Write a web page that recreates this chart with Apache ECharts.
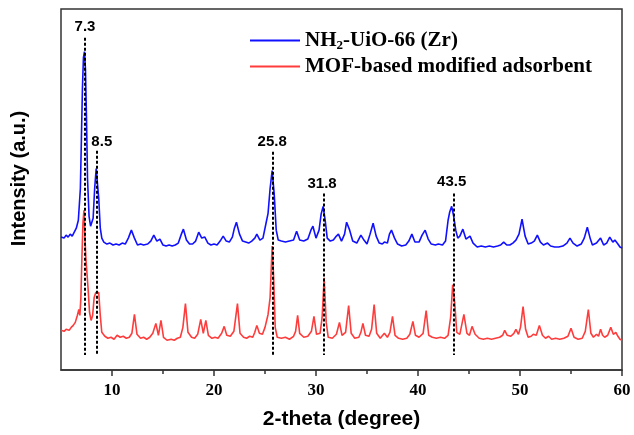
<!DOCTYPE html>
<html>
<head>
<meta charset="utf-8">
<script src="https://cdn.jsdelivr.net/npm/echarts@6/dist/echarts.min.js"></script>
<style>
  html, body { margin: 0; padding: 0; background: #fff; }
  #main { width: 634px; height: 435px; }
</style>
</head>
<body>
<div id="main"></div>
<script>
// 2-theta vs intensity (a.u.), the blue pattern already carries its stacking offset
var uioPattern = [
  [5.0,134],[5.3,133],[5.5,136],[5.7,134],[5.9,137],[6.1,135],[6.3,139],[6.5,143],[6.7,151],[6.9,183],
  [7.0,233],[7.1,283],[7.2,315],[7.3,321],[7.4,303],[7.5,253],[7.6,193],[7.75,155],[7.9,145],[8.0,143],
  [8.15,153],[8.3,183],[8.45,203],[8.55,201],[8.7,173],[8.85,143],[9.0,133],[9.2,129],[9.5,127],[9.8,128],
  [10.1,126],[10.4,127],[10.7,126],[11.0,128],[11.3,127],[11.6,133],[11.9,141],[12.2,133],[12.5,126],[12.8,127],
  [13.1,126],[13.5,127],[13.8,130],[14.1,136],[14.4,130],[14.7,132],[15.0,126],[15.3,125],[15.6,126],[15.9,125],
  [16.2,126],[16.5,128],[16.8,137],[17.0,142],[17.3,131],[17.6,127],[17.9,127],[18.2,130],[18.5,139],[18.8,133],
  [19.1,134],[19.4,128],[19.7,126],[20.0,127],[20.3,126],[20.6,130],[20.9,135],[21.2,130],[21.5,129],[21.8,134],
  [22.0,143],[22.2,149],[22.5,137],[22.8,130],[23.1,129],[23.4,128],[23.7,130],[24.0,133],[24.2,137],[24.5,131],
  [24.8,133],[25.1,148],[25.3,158],[25.5,183],[25.7,201],[25.9,178],[26.1,141],[26.3,131],[26.6,130],[27.0,129],
  [27.4,130],[27.8,131],[28.1,140],[28.4,131],[28.8,130],[29.2,132],[29.5,141],[29.7,145],[30.0,133],[30.3,141],
  [30.5,157],[30.7,165],[30.9,151],[31.1,133],[31.4,130],[31.7,131],[32.0,135],[32.2,137],[32.5,130],[32.8,137],
  [33.0,149],[33.1,151],[33.3,141],[33.6,130],[34.0,128],[34.2,132],[34.4,136],[34.7,131],[35.0,127],[35.3,137],
  [35.6,148],[35.9,135],[36.2,128],[36.5,127],[36.7,129],[37.0,128],[37.2,137],[37.4,141],[37.7,133],[38.0,127],
  [38.4,125],[38.8,126],[39.1,130],[39.4,137],[39.7,129],[40.1,129],[40.4,136],[40.7,141],[41.0,132],[41.3,127],
  [41.7,126],[42.0,127],[42.4,126],[42.7,130],[42.95,151],[43.1,159],[43.3,165],[43.5,155],[43.7,141],[43.9,133],
  [44.1,135],[44.4,142],[44.7,132],[45.1,135],[45.4,128],[45.8,124],[46.2,125],[46.6,124],[47.0,125],[47.4,124],
  [47.8,125],[48.1,126],[48.4,129],[48.7,126],[49.0,126],[49.3,128],[49.6,131],[49.9,137],[50.2,152],[50.5,135],
  [50.8,127],[51.1,128],[51.4,130],[51.7,136],[52.0,129],[52.3,126],[52.7,128],[53.0,125],[53.4,124],[53.8,124],
  [54.2,125],[54.6,128],[54.9,133],[55.2,128],[55.6,125],[56.0,127],[56.3,133],[56.6,144],[56.9,132],[57.1,126],
  [57.5,128],[57.9,133],[58.2,126],[58.5,128],[58.8,134],[59.1,129],[59.3,131],[59.6,127],[59.8,124],[60.0,123]
];

var mofPattern = [
  [5.0,40],[5.3,39],[5.5,41],[5.8,40],[6.0,43],[6.2,45],[6.4,48],[6.6,55],[6.75,61],[6.85,55],
  [6.95,73],[7.05,113],[7.15,148],[7.25,161],[7.35,133],[7.45,111],[7.55,111],[7.65,83],[7.8,58],[7.95,50],
  [8.1,55],[8.25,73],[8.4,78],[8.55,77],[8.7,78],[8.85,55],[9.0,38],[9.3,34],[9.6,32],[9.9,33],
  [10.2,31],[10.5,35],[10.8,33],[11.1,34],[11.4,32],[11.7,33],[11.95,37],[12.2,56],[12.45,36],[12.8,32],
  [13.1,33],[13.4,31],[13.7,33],[14.0,37],[14.3,47],[14.55,35],[14.8,50],[15.05,33],[15.4,30],[15.8,31],
  [16.1,30],[16.4,32],[16.7,33],[16.95,43],[17.2,67],[17.45,38],[17.8,33],[18.1,32],[18.4,36],[18.7,51],
  [18.95,37],[19.2,50],[19.45,35],[19.8,32],[20.1,33],[20.4,32],[20.75,37],[21.0,44],[21.25,35],[21.6,34],
  [21.95,39],[22.3,67],[22.55,37],[22.9,33],[23.2,32],[23.5,34],[23.8,33],[24.0,38],[24.2,45],[24.45,37],
  [24.75,36],[25.0,43],[25.3,56],[25.5,73],[25.7,125],[25.85,93],[26.0,43],[26.2,33],[26.6,32],[27.0,33],
  [27.4,31],[27.8,34],[28.0,39],[28.2,55],[28.4,37],[28.8,33],[29.2,34],[29.55,39],[29.8,54],[30.05,36],
  [30.4,37],[30.6,53],[30.8,93],[31.0,48],[31.2,33],[31.6,32],[32.0,36],[32.3,48],[32.55,35],[32.9,38],
  [33.2,65],[33.45,37],[33.8,32],[34.2,33],[34.4,38],[34.6,47],[34.85,35],[35.2,34],[35.45,41],[35.7,66],
  [35.95,37],[36.3,32],[36.7,37],[37.0,33],[37.25,38],[37.5,54],[37.75,35],[38.1,32],[38.5,31],[38.9,32],
  [39.2,36],[39.5,49],[39.75,35],[40.1,33],[40.5,37],[40.8,60],[41.05,35],[41.4,33],[41.8,32],[42.2,33],
  [42.6,32],[42.95,35],[43.2,53],[43.4,86],[43.6,68],[43.8,38],[44.1,36],[44.5,56],[44.8,37],[45.05,35],
  [45.3,44],[45.6,36],[46.0,32],[46.4,31],[46.8,32],[47.2,31],[47.6,32],[48.0,33],[48.3,35],[48.5,40],
  [48.75,35],[49.1,34],[49.4,37],[49.6,41],[49.85,36],[50.05,43],[50.3,64],[50.55,41],[50.8,33],[51.1,34],
  [51.3,36],[51.6,35],[51.9,45],[52.2,35],[52.5,32],[52.8,34],[53.1,31],[53.5,32],[53.9,31],[54.3,32],
  [54.7,34],[55.0,42],[55.3,33],[55.7,31],[56.1,32],[56.4,39],[56.7,61],[56.95,37],[57.2,33],[57.5,36],
  [57.7,34],[57.9,41],[58.1,35],[58.3,33],[58.6,35],[58.9,43],[59.15,36],[59.4,38],[59.6,34],[59.8,31],[60.0,30]
];

// marked reflections: where the dashed guide sits, its top, and the text written above it
var peakAt = [7.28, 8.5, 25.72, 30.72, 43.46];
var peakTop = [335, 221, 220, 178, 178];
var peakBottom = 15;
var peakText = ['7.3', '8.5', '25.8', '31.8', '43.5'];
var peakTextAt = [[7.35, 338], [9.0, 222], [25.7, 222], [30.6, 180], [43.3, 182]];

var majorTicks = [10, 20, 30, 40, 50, 60];
var minorTicks = [15, 25, 35, 45, 55];

var names = ['NH2-UiO-66 (Zr)', 'MOF-based modified adsorbent'];

var myChart = echarts.init(document.getElementById('main'));

var guides = [];
for (var i = 0; i < peakAt.length; i++) {
  guides.push([{coord: [peakAt[i], peakTop[i]]}, {coord: [peakAt[i], peakBottom]}]);
}
var peakLabels = [];
for (var j = 0; j < peakText.length; j++) {
  peakLabels.push({name: peakText[j], value: peakTextAt[j]});
}

var option = {
  animation: false,
  grid: {
    left: 61, right: 12, top: 9, bottom: 62,
    show: true, borderColor: '#333', borderWidth: 1.5
  },
  legend: {
    data: [
      {name: names[0], icon: 'rect', itemStyle: {color: '#1010ff'}},
      {name: names[1], icon: 'rect', itemStyle: {color: '#ff3c3c'}}
    ],
    orient: 'vertical',
    left: 250,
    top: 30,
    padding: 0,
    itemWidth: 50,
    itemHeight: 2,
    itemGap: 4,
    textStyle: {
      rich: {
        b: {fontFamily: 'Liberation Serif', fontWeight: 'bold', fontSize: 21, color: '#000'},
        s: {fontFamily: 'Liberation Serif', fontWeight: 'bold', fontSize: 13, color: '#000', padding: [10, 0, 0, 0]}
      }
    },
    formatter: function (name) {
      if (name === names[0]) return '{b|NH}{s|2}{b|-UiO-66 (Zr)}';
      return '{b|' + name + '}';
    }
  },
  xAxis: [{
    type: 'value',
    min: 5, max: 60,
    name: '2-theta (degree)',
    nameLocation: 'middle',
    nameGap: 39,
    nameTextStyle: {fontFamily: 'Liberation Sans', fontWeight: 'bold', fontSize: 21, color: '#000'},
    axisLine: {lineStyle: {color: '#333', width: 1.5}},
    axisTick: {show: true, length: 6, lineStyle: {color: '#333', width: 1.5}, customValues: majorTicks},
    axisLabel: {
      customValues: majorTicks, margin: 12,
      fontFamily: 'Liberation Serif', fontWeight: 'bold', fontSize: 17, color: '#000'
    },
    splitLine: {show: false}
  }, {
    type: 'value',
    min: 5, max: 60,
    position: 'bottom',
    axisLine: {show: false},
    axisTick: {show: true, length: 4, lineStyle: {color: '#333', width: 1.5}, customValues: minorTicks},
    axisLabel: {show: false},
    splitLine: {show: false}
  }],
  yAxis: {
    type: 'value',
    min: 0, max: 364,
    name: 'Intensity (a.u.)',
    nameLocation: 'middle',
    nameGap: 32,
    nameTextStyle: {fontFamily: 'Liberation Sans', fontWeight: 'bold', fontSize: 20, color: '#000', padding: [0, 0, 0, 22]},
    axisLine: {show: false},
    axisTick: {show: false},
    axisLabel: {show: false},
    splitLine: {show: false}
  },
  series: [{
    name: names[0],
    type: 'line',
    data: uioPattern,
    symbol: 'none',
    color: '#1010ff',
    lineStyle: {width: 1.6, color: '#1010ff'},
    z: 3
  }, {
    name: names[1],
    type: 'line',
    data: mofPattern,
    symbol: 'none',
    color: '#ff3c3c',
    lineStyle: {width: 1.6, color: '#ff3c3c'},
    z: 2
  }, {
    name: 'guides',
    type: 'line',
    data: [],
    z: 5,
    markLine: {
      silent: true,
      symbol: ['none', 'none'],
      label: {show: false},
      lineStyle: {color: '#000', type: [3, 2], width: 2},
      data: guides
    }
  }, {
    name: 'peak labels',
    type: 'scatter',
    symbolSize: 0,
    data: peakLabels,
    z: 6,
    itemStyle: {opacity: 1},
    label: {
      show: true,
      position: 'top',
      distance: 0,
      formatter: '{b}',
      fontFamily: 'Liberation Sans', fontWeight: 'bold', fontSize: 15, color: '#000'
    }
  }]
};

myChart.setOption(option);
</script>
</body>
</html>
